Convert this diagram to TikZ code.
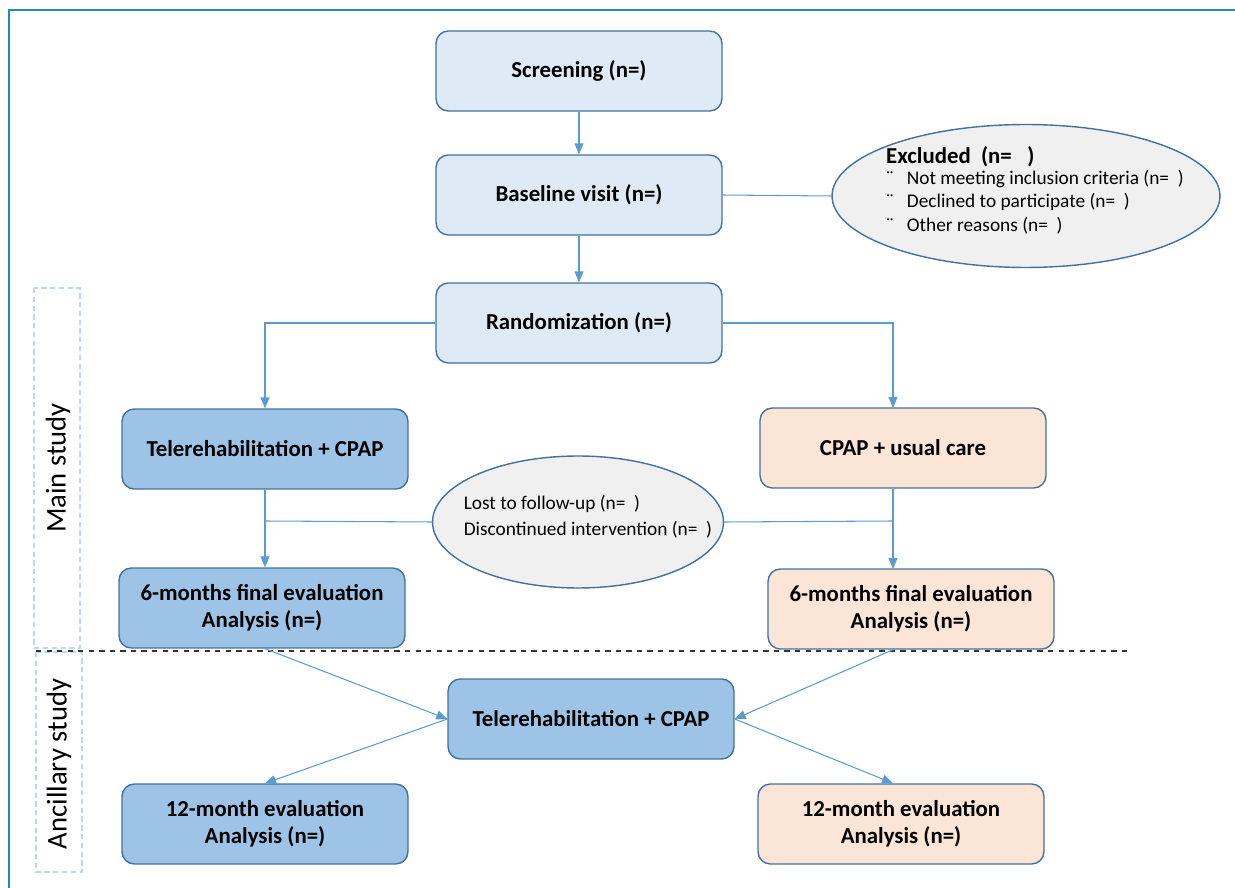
\documentclass[tikz,border=0pt]{standalone}
\usepackage{fontspec}
\setmainfont{Carlito}
\usetikzlibrary{arrows.meta,shapes.geometric}
\definecolor{frameblue}{HTML}{1E88C8}
\definecolor{edgeblue}{HTML}{41719C}
\definecolor{linkblue}{HTML}{5B9BD5}
\definecolor{paleblue}{HTML}{DEEBF7}
\definecolor{midblue}{HTML}{9DC3E6}
\definecolor{peach}{HTML}{FBE5D6}
\definecolor{ovalgrey}{HTML}{F0F0F0}
\definecolor{dashblue}{HTML}{BDD7EE}
\tikzset{
	stage/.style={draw=edgeblue, line width=0.8pt, rounded corners=7pt, minimum width=5.72cm, minimum height=1.6cm, align=center, font=\bfseries\fontsize{13}{15.5}\selectfont},
	pale/.style={stage, fill=paleblue},
	armA/.style={stage, fill=midblue},
	armB/.style={stage, fill=peach},
	oval/.style={ellipse, draw=edgeblue, line width=0.8pt, fill=ovalgrey, inner sep=0pt},
	note/.style={align=left, font=\fontsize{11}{13.2}\selectfont},
	link/.style={draw=linkblue, line width=0.6pt},
	flow/.style={link, -{Triangle[length=2.2mm,width=1.8mm]}},
	sidebox/.style={draw=dashblue, densely dashed, line width=0.6pt},
	sidetext/.style={rotate=90, font=\fontsize{16.3}{18}\selectfont}
}
\begin{document}
\begin{tikzpicture}[x=0.02cm, y=-0.02cm]
	\useasboundingbox (0,0) rectangle (1235,888);
	\draw[frameblue, line width=1.6pt] (9,888) -- (9,10) -- (1235,10);

	\draw[sidebox] (34,288) rectangle (80,648);
	\draw[sidebox] (36,652) rectangle (82,872);
	\node[sidetext] (mainlbl) at (58,468) {Main study};
	\node[sidetext] (ancilbl) at (59,764) {Ancillary study};
	\draw[dashed, line width=0.8pt, black!80] (36,651) -- (1130,651);

	\node[pale] (screen) at (579,71) {Screening (n=)};
	\node[pale] (base) at (579,195) {Baseline visit (n=)};
	\node[pale] (rand) at (579,323) {Randomization (n=)};
	\node[oval, minimum width=7.76cm, minimum height=2.86cm] (excl) at (1026,196) {};
	\node[note, anchor=west] (exclnote) at (880,190)
		{{\bfseries\fontsize{13}{16}\selectfont Excluded~ (n=~~~)}\\[-1pt]
		 ¨~~~Not meeting inclusion criteria (n=~~)\\
		 ¨~~~Declined to participate (n=~~)\\
		 ¨~~~Other reasons (n=~~)};

	\node[armA] (telA) at (265,449) {Telerehabilitation + CPAP};
	\node[armB] (usual) at (903,448) {CPAP + usual care};
	\node[oval, minimum width=5.82cm, minimum height=2.64cm] (lost) at (578,522) {};
	\node[note, font=\fontsize{11}{14.5}\selectfont] (lostnote) at (588,517)
		{Lost to follow-up (n=~~)\\Discontinued intervention (n=~~)};
	\node[armA] (sixA) at (262,608) {6-months final evaluation\\Analysis (n=)};
	\node[armB] (sixB) at (911,609) {6-months final evaluation\\Analysis (n=)};

	\node[armA] (telM) at (591,719) {Telerehabilitation + CPAP};
	\node[armA] (twA) at (265,824) {12-month evaluation\\Analysis (n=)};
	\node[armB] (twB) at (901,824) {12-month evaluation\\Analysis (n=)};

	\coordinate (forkA) at (265,521);
	\coordinate (forkB) at (893,521);

	\draw[flow] (screen) -- (base);
	\draw[flow] (base) -- (rand);
	\draw[link] (base.east) -- (excl.west);
	\draw[flow] (rand.west) -| (telA.north);
	\draw[flow] (rand.east) -| (893,408);
	\draw[flow] (telA.south) -- (sixA.north -| telA.south);
	\draw[flow] (893,489) -- (893,569);
	\draw[link] (forkA) -- (lost.west);
	\draw[link] (lost.east) -- (forkB);
	\draw[flow] (sixA.south -| telA.south) -- (telM.west);
	\draw[flow] (sixB.south -| forkB) -- (telM.east);
	\draw[flow] (telM.west) -- (twA.north);
	\draw[flow] (telM.east) -- (twB.north -| forkB);
\end{tikzpicture}
\end{document}
